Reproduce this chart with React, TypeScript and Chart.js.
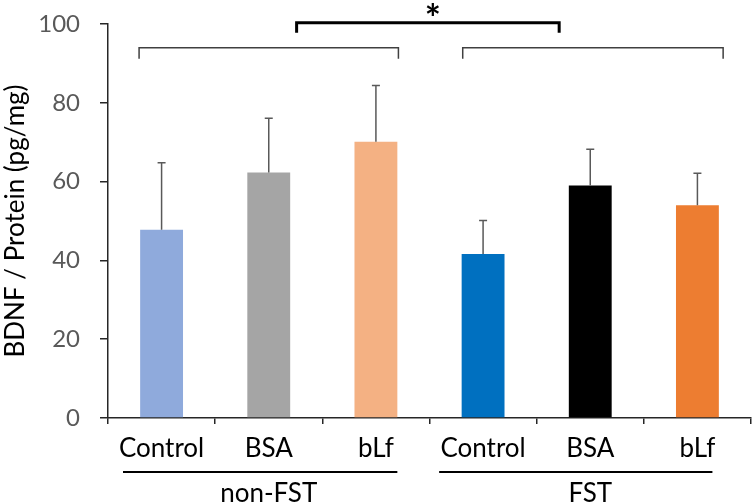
import React, { useEffect, useRef } from "react";
import { Chart, registerables } from "chart.js";

Chart.register(...registerables);

const categories = ["Control", "BSA", "bLf", "Control", "BSA", "bLf"];
const means = [47.8, 62.3, 70.1, 41.6, 59.0, 54.0];
const sds = [17.0, 13.8, 14.3, 8.5, 9.2, 8.1];
const barColors = ["#8FAADC", "#A5A5A5", "#F4B183", "#0070C0", "#000000", "#ED7D31"];
const groupLabels = ["non-FST", "FST"];
const yTicks = [0, 20, 40, 60, 80, 100];
const significance = "*";

// annotation geometry (category index units / value units)
const groupLineSpans = [
  [-0.36, 2.2],
  [2.59, 5.14],
];
const groupBrackets = [
  [-0.21, 2.21],
  [2.81, 5.24],
];
const groupBracketTop = 94.0;
const groupBracketDrop = 91.2;
const sigBracket = [1.26, 3.71];
const sigBracketTop = 100.3;
const sigBracketDrop = 97.8;

const FONT = "Lato";

const annotationPlugin = {
  id: "annotations",
  afterDatasetsDraw(chart: any) {
    const ctx = chart.ctx as CanvasRenderingContext2D;
    const xs = chart.scales.x;
    const ys = chart.scales.y;
    const meta = chart.getDatasetMeta(0);
    ctx.save();
    // error bars
    ctx.strokeStyle = "#595959";
    ctx.lineWidth = 1.5;
    meta.data.forEach((bar: any, i: number) => {
      const x = bar.x;
      const y0 = ys.getPixelForValue(means[i]);
      const y1 = ys.getPixelForValue(means[i] + sds[i]);
      ctx.beginPath();
      ctx.moveTo(x, y0);
      ctx.lineTo(x, y1);
      ctx.moveTo(x - 4, y1);
      ctx.lineTo(x + 4, y1);
      ctx.stroke();
    });
    // group brackets
    ctx.strokeStyle = "#404040";
    ctx.lineWidth = 1.5;
    groupBrackets.forEach(([a, b]) => {
      const xa = xs.getPixelForValue(a);
      const xb = xs.getPixelForValue(b);
      const yt = ys.getPixelForValue(groupBracketTop);
      const yd = ys.getPixelForValue(groupBracketDrop);
      ctx.beginPath();
      ctx.moveTo(xa, yd);
      ctx.lineTo(xa, yt);
      ctx.lineTo(xb, yt);
      ctx.lineTo(xb, yd);
      ctx.stroke();
    });
    // significance bracket
    ctx.strokeStyle = "#000000";
    ctx.lineWidth = 3;
    {
      const xa = xs.getPixelForValue(sigBracket[0]);
      const xb = xs.getPixelForValue(sigBracket[1]);
      const yt = ys.getPixelForValue(sigBracketTop);
      const yd = ys.getPixelForValue(sigBracketDrop);
      ctx.beginPath();
      ctx.moveTo(xa, yd);
      ctx.lineTo(xa, yt);
      ctx.lineTo(xb, yt);
      ctx.lineTo(xb, yd);
      ctx.stroke();
      ctx.fillStyle = "#000000";
      ctx.font = `bold 38px ${FONT}`;
      ctx.textAlign = "center";
      ctx.textBaseline = "alphabetic";
      ctx.fillText(significance, (xa + xb) / 2 + 5, yt + 9);
    }
    // group lines and labels under the axis
    ctx.strokeStyle = "#000000";
    ctx.lineWidth = 2;
    groupLineSpans.forEach(([a, b], gi) => {
      const xa = xs.getPixelForValue(a);
      const xb = xs.getPixelForValue(b);
      const yl = xs.top + 54;
      ctx.beginPath();
      ctx.moveTo(xa, yl);
      ctx.lineTo(xb, yl);
      ctx.stroke();
      const cx = (xs.getPixelForValue(gi * 3) + xs.getPixelForValue(gi * 3 + 2)) / 2;
      ctx.fillStyle = "#000000";
      ctx.font = `26px ${FONT}`;
      ctx.textAlign = "center";
      ctx.textBaseline = "alphabetic";
      ctx.fillText(groupLabels[gi], cx, xs.top + 84);
    });
    ctx.restore();
  },
};

export default function App() {
  const ref = useRef<HTMLCanvasElement>(null);
  useEffect(() => {
    document.body.style.margin = "0";
    const chart = new Chart(ref.current as HTMLCanvasElement, {
      type: "bar",
      data: {
        labels: categories,
        datasets: [
          {
            data: means,
            backgroundColor: barColors,
            borderWidth: 0,
            barPercentage: 0.8,
            categoryPercentage: 0.5,
          },
        ],
      },
      options: {
        animation: false,
        responsive: false,
        maintainAspectRatio: false,
        layout: { padding: { top: 24, right: 2, left: 0, bottom: 0 } },
        plugins: { legend: { display: false }, tooltip: { enabled: false } },
        scales: {
          x: {
            grid: { drawOnChartArea: false, tickLength: 6, color: "#262626", lineWidth: 1.5 },
            border: { color: "#262626", width: 1.5 },
            ticks: { color: "#000000", font: { family: FONT, size: 26 }, padding: 9, maxRotation: 0, autoSkip: false },
            afterFit: (s: any) => {
              s.height = 86;
              s.paddingLeft = 0;
              s.paddingRight = 0;
            },
          },
          y: {
            min: 0,
            max: 100,
            afterBuildTicks: (s: any) => {
              s.ticks = yTicks.map((v) => ({ value: v }));
            },
            grid: { drawOnChartArea: false, tickLength: 8, color: "#262626", lineWidth: 1.5 },
            border: { color: "#262626", width: 1.5 },
            ticks: { color: "#595959", font: { family: FONT, size: 24 }, padding: 20 },
            title: {
              display: true,
              text: "BDNF / Protein (pg/mg)",
              color: "#000000",
              font: { family: FONT, size: 26 },
              padding: { top: 0, bottom: 0 },
            },
            afterFit: (s: any) => {
              s.width = 108;
              s.paddingTop = 0;
              s.paddingBottom = 0;
            },
          },
        },
      },
      plugins: [annotationPlugin],
    });
    return () => chart.destroy();
  }, []);
  return (
    <div style={{ position: "absolute", left: 0, top: 0, width: 753, height: 504 }}>
      <canvas ref={ref} width={753} height={504} style={{ display: "block" }} />
    </div>
  );
}
